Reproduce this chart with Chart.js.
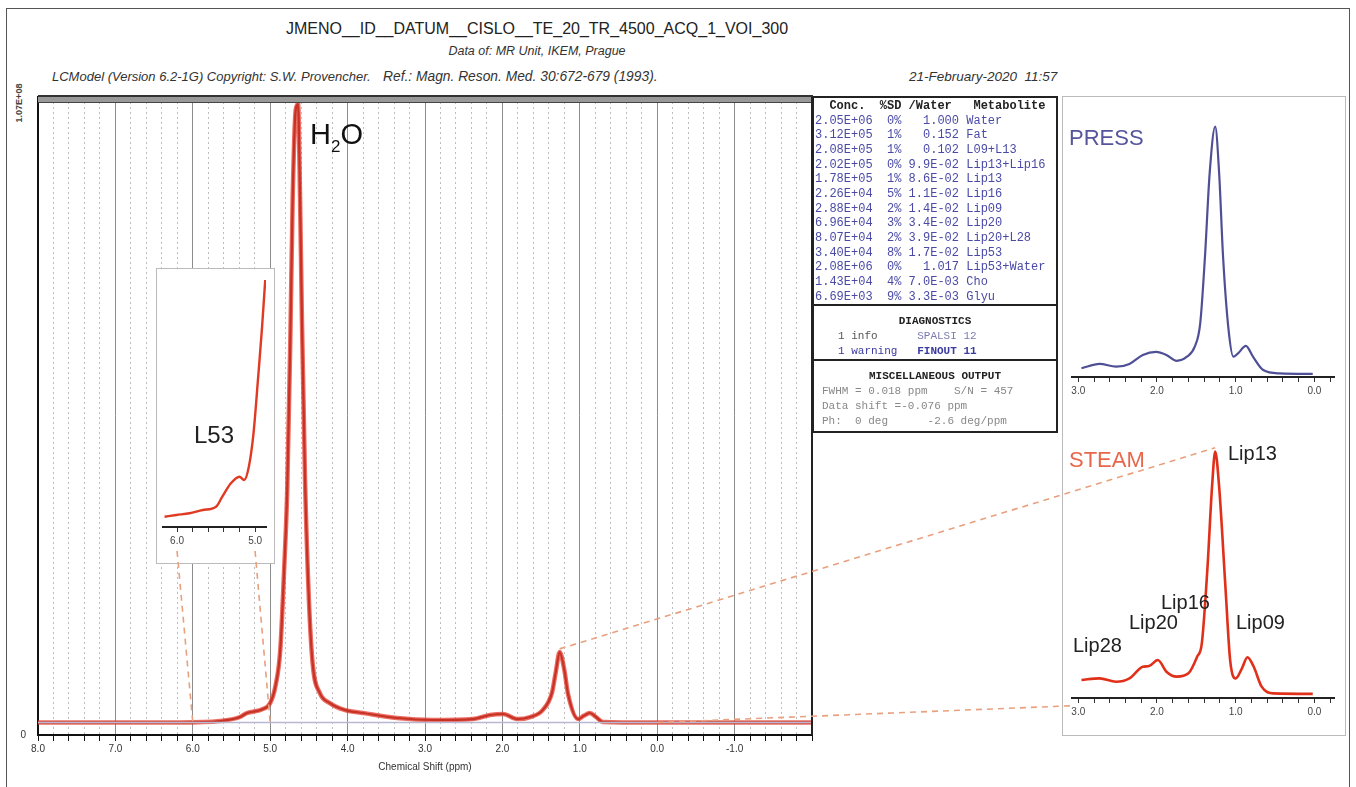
<!DOCTYPE html>
<html>
<head>
<meta charset="utf-8">
<script src="https://cdn.jsdelivr.net/npm/chart.js@4.4.1/dist/chart.umd.min.js"></script>
<style>
  body { margin: 0; background: #fff; width: 1356px; height: 787px; overflow: hidden; position: relative;
         font-family: "Liberation Sans", Arial, sans-serif; }
  .abs { position: absolute; white-space: pre; }
  canvas { position: absolute; }
  .box { position: absolute; box-sizing: border-box; border: 2px solid #222; background: #fff; }
  .mono { font-family: "Liberation Mono", "DejaVu Sans Mono", monospace; }
  .lip { position: absolute; font-size: 20px; color: #222; white-space: pre; line-height: 20px; }
  .head { font-style: italic; color: #333; font-size: 13px; top: 69px; }
</style>
</head>
<body>
<div class="abs" style="left:6px;top:8px;width:1344px;height:790px;border:1px solid #555;box-sizing:border-box;"></div>

<div class="abs" style="left:0;width:1074px;top:20px;text-align:center;font-size:16px;color:#222;">JMENO__ID__DATUM__CISLO__TE_20_TR_4500_ACQ_1_VOI_300</div>
<div class="abs" style="left:0;width:1074px;top:44px;text-align:center;font-size:12.5px;font-style:italic;color:#333;">Data of: MR Unit, IKEM, Prague</div>
<div class="abs head" style="left:52px;">LCModel (Version 6.2-1G) Copyright: S.W. Provencher.</div>
<div class="abs head" style="left:383px;font-size:13.8px;">Ref.: Magn. Reson. Med. 30:672-679 (1993).</div>
<div class="abs head" style="left:909px;font-size:13.5px;">21-February-2020  11:57</div>
<div class="abs" style="left:0px;top:98px;font-size:9px;font-weight:bold;color:#444;transform:rotate(-90deg);">1.07E+08</div>

<canvas id="mainChart" width="830" height="787" style="left:0;top:0;"></canvas>
<div class="abs" style="left:38px;top:95px;width:775px;height:8px;background:#999;border-top:2px solid #333;border-bottom:1px solid #444;box-sizing:border-box;"></div>
<div class="abs" style="left:811px;top:97px;width:2px;height:638px;background:#222;"></div>

<div class="abs" style="left:1062px;top:96px;width:284px;height:640px;border:1px solid #bbb;box-sizing:border-box;"></div>

<div class="abs" style="left:156px;top:268px;width:119px;height:296px;border:1px solid #bbb;background:#fff;box-sizing:border-box;"></div>
<canvas id="l53Chart" width="116" height="293" style="left:157px;top:269px;"></canvas>
<div class="abs" style="left:194px;top:422px;font-size:24px;color:#222;line-height:26px;">L53</div>

<canvas id="pressChart" width="283" height="310" style="left:1062px;top:97px;"></canvas>
<canvas id="steamChart" width="283" height="310" style="left:1062px;top:420px;"></canvas>

<svg id="links" width="1356" height="787" style="position:absolute;left:0;top:0;"></svg>

<div class="abs" style="left:310px;top:118px;font-size:29px;color:#111;line-height:32px;">H<span style="font-size:17px;position:relative;top:8px;">2</span>O</div>

<div class="abs" style="left:1069px;top:126px;font-size:22px;color:#55559c;line-height:24px;">PRESS</div>
<div class="abs" style="left:1069px;top:448px;font-size:22px;color:#e8664a;line-height:24px;">STEAM</div>
<div class="lip" style="left:1228px;top:443px;">Lip13</div>
<div class="lip" style="left:1161px;top:592px;">Lip16</div>
<div class="lip" style="left:1129px;top:612px;">Lip20</div>
<div class="lip" style="left:1073px;top:635px;">Lip28</div>
<div class="lip" style="left:1236px;top:612px;">Lip09</div>

<div class="box" style="left:812px;top:96px;width:246px;height:210px;"></div>
<div class="box" style="left:812px;top:304px;width:246px;height:57px;"></div>
<div class="box" style="left:812px;top:359px;width:246px;height:74px;"></div>
<div id="concTable" class="abs mono" style="left:815px;top:99px;font-size:12px;line-height:14.67px;color:#4a4aa6;"></div>
<div class="abs mono" style="left:812px;width:246px;top:315px;text-align:center;font-size:11px;font-weight:bold;color:#222;">DIAGNOSTICS</div>
<div class="abs mono" style="left:838px;top:330px;font-size:11px;color:#555;">1 info      <span style="color:#7a7ab0">SPALSI 12</span></div>
<div class="abs mono" style="left:838px;top:345px;font-size:11px;color:#3a3aa0;">1 warning   <b>FINOUT 11</b></div>
<div class="abs mono" style="left:812px;width:246px;top:370px;text-align:center;font-size:11px;font-weight:bold;color:#222;">MISCELLANEOUS OUTPUT</div>
<div class="abs mono" style="left:822px;top:385px;font-size:11px;color:#888;">FWHM = 0.018 ppm    S/N = 457</div>
<div class="abs mono" style="left:822px;top:400px;font-size:11px;color:#888;">Data shift =-0.076 ppm</div>
<div class="abs mono" style="left:822px;top:415px;font-size:11px;color:#888;">Ph:  0 deg      -2.6 deg/ppm</div>

<script>
// full spectrum (ppm, a.u. with 100 = top of plot)
var mainShift = [8.00, 7.20, 6.17, 5.65, 5.39, 5.30, 5.21, 5.11, 5.00, 4.93, 4.87, 4.82, 4.78, 4.74, 4.71, 4.67,
  4.64, 4.62, 4.59, 4.55, 4.50, 4.45, 4.36, 4.23, 4.03, 3.80, 3.36, 2.90, 2.38, 2.16, 1.99, 1.81, 1.64, 1.48,
  1.36, 1.31, 1.26, 1.20, 1.15, 1.02, 0.95, 0.87, 0.79, 0.70, 0.09, -2.00];
var mainSignal = [1.96, 1.96, 1.96, 2.19, 2.82, 3.45, 3.68, 4.0, 5.0, 7.8, 13.3, 25.9, 38.4, 61.9, 83.9, 98.0,
  98.9, 88.6, 65.0, 40.0, 21.2, 11.0, 6.6, 5.0, 3.9, 3.45, 2.66, 2.35, 2.5, 3.13, 3.29, 2.5, 2.82, 3.9,
  6.6, 9.9, 13.0, 10.2, 6.3, 2.5, 3.0, 3.45, 2.82, 2.04, 1.96, 1.96];
var baselineShift = [8.0, -2.0];
var baselineSignal = [1.96, 1.96];
var mainTickLabels = ['8.0', '7.0', '6.0', '5.0', '4.0', '3.0', '2.0', '1.0', '0.0', '-1.0'];

// lipid region zoom, PRESS and STEAM
var pressShift = [2.96, 2.73, 2.52, 2.35, 2.18, 2.01, 1.88, 1.75, 1.62, 1.52, 1.45, 1.39, 1.33, 1.26, 1.21,
  1.16, 1.09, 1.03, 0.97, 0.87, 0.78, 0.65, 0.44, 0.02];
var pressSignal = [3.4, 5.1, 4.0, 5.1, 8.6, 9.8, 8.6, 6.3, 7.9, 11.8, 21.0, 46.8, 79.4, 97.4, 79.4,
  46.8, 18.3, 7.9, 9.2, 12.1, 7.9, 2.7, 1.4, 1.2];
var steamShift = [2.96, 2.73, 2.52, 2.35, 2.18, 2.10, 1.99, 1.88, 1.75, 1.60, 1.49, 1.43, 1.36, 1.30, 1.26,
  1.21, 1.13, 1.07, 1.00, 0.92, 0.85, 0.77, 0.67, 0.52, 0.02];
var steamSignal = [7.0, 7.6, 6.3, 7.6, 12.1, 12.4, 14.7, 10.2, 8.3, 9.6, 16.0, 21.2, 49.6, 81.9, 95.5,
  81.9, 43.1, 14.7, 7.6, 11.5, 15.8, 12.1, 4.4, 1.8, 1.6];
var insetTicks = [3.0, 2.8, 2.6, 2.4, 2.2, 2.0, 1.8, 1.6, 1.4, 1.2, 1.0, 0.8, 0.6, 0.4, 0.2, 0.0, -0.2];
var insetTickLabels = ['3.0', '2.0', '1.0', '0.0'];

// L53 zoom
var l53Shift = [6.16, 6.01, 5.84, 5.67, 5.50, 5.42, 5.31, 5.20, 5.14, 5.08, 5.02, 4.96, 4.91, 4.87];
var l53Signal = [10.3, 12, 13.7, 17, 20.3, 30.3, 43.7, 50.3, 47, 60.3, 93.7, 150.3, 200.3, 247];
var l53Ticks = [6.0, 5.8, 5.6, 5.4, 5.2, 5.0];
var l53TickLabels = ['6.0', '5.0'];

// concentration table
var concValues = ['2.05E+06', '3.12E+05', '2.08E+05', '2.02E+05', '1.78E+05', '2.26E+04', '2.88E+04',
  '6.96E+04', '8.07E+04', '3.40E+04', '2.08E+06', '1.43E+04', '6.69E+03'];
var concSD = ['0%', '1%', '1%', '0%', '1%', '5%', '2%', '3%', '2%', '8%', '0%', '4%', '9%'];
var concWater = ['1.000', '0.152', '0.102', '9.9E-02', '8.6E-02', '1.1E-02', '1.4E-02', '3.4E-02',
  '3.9E-02', '1.7E-02', '1.017', '7.0E-03', '3.3E-03'];
var metabolites = ['Water', 'Fat', 'L09+L13', 'Lip13+Lip16', 'Lip13', 'Lip16', 'Lip09', 'Lip20',
  'Lip20+L28', 'Lip53', 'Lip53+Water', 'Cho', 'Glyu'];

function pad(s, n) {
  while (s.length < n) s = ' ' + s;
  return s;
}

var rows = ['<b style="color:#222">  Conc.  %SD /Water   Metabolite</b>'];
for (var i = 0; i < concValues.length; i++) {
  rows.push(concValues[i] + pad(concSD[i], 4) + ' ' + pad(concWater[i], 7) + ' ' + metabolites[i]);
}
document.getElementById('concTable').innerHTML = rows.join('\n');

function toPoints(xs, ys) {
  return xs.map(function(x, i) { return {x: x, y: ys[i]}; });
}

function isStep(v, step) {
  return Math.abs(v / step - Math.round(v / step)) < 1e-6;
}

function fmt(v) {
  return Math.abs(v) < 1e-6 ? '0.0' : v.toFixed(1);
}

var mainChart = new Chart(document.getElementById('mainChart').getContext('2d'), {
  type: 'line',
  data: {
    datasets: [
      {data: toPoints(baselineShift, baselineSignal), borderColor: '#b8b8d0', borderWidth: 1.5, pointRadius: 0},
      {data: toPoints(mainShift, mainSignal), borderColor: 'rgba(228,60,45,0.75)', borderWidth: 4.5,
       pointRadius: 0, cubicInterpolationMode: 'monotone'},
      {data: toPoints(mainShift, mainSignal), borderColor: '#6e140f', borderWidth: 2.2,
       pointRadius: 0, cubicInterpolationMode: 'monotone'},
    ]
  },
  options: {
    responsive: false,
    animation: false,
    layout: {padding: {top: 97, right: 18, left: 0, bottom: 0}},
    plugins: {legend: {display: false}, tooltip: {enabled: false}},
    scales: {
      x: {
        type: 'linear', reverse: true, min: -2, max: 8, position: 'bottom',
        afterFit: function(s) { s.height = 52; },
        ticks: {
          stepSize: 0.2, autoSkip: false, maxRotation: 0, padding: 2, color: '#333',
          font: {family: 'Liberation Sans', size: 10},
          callback: function(v) {
            if (!isStep(v, 1)) return '';
            var lbl = fmt(v);
            return mainTickLabels.indexOf(lbl) >= 0 ? lbl : '';
          }
        },
        grid: {
          color: function(c) { return c.tick && isStep(c.tick.value, 1) ? '#8c8c8c' : 'rgba(0,0,0,0)'; },
          tickColor: '#111', tickLength: 6, lineWidth: 1
        },
        border: {color: '#111', width: 2},
        title: {display: true, text: 'Chemical Shift (ppm)', color: '#333',
                font: {family: 'Liberation Sans', size: 10}, padding: {top: 4, bottom: 14}}
      },
      x2: {
        type: 'linear', reverse: true, min: -2, max: 8, position: 'top',
        afterFit: function(s) { s.height = 0; },
        ticks: {display: false, stepSize: 0.2},
        grid: {
          color: function(c) { return c.tick && !isStep(c.tick.value, 1) ? '#bdbdbd' : 'rgba(0,0,0,0)'; },
          drawTicks: false
        },
        border: {display: false, dash: [2, 3]}
      },
      y: {
        min: 0, max: 100,
        afterFit: function(s) { s.width = 38; },
        ticks: {stepSize: 100, color: '#333', font: {family: 'Liberation Sans', size: 10}, padding: 4,
                callback: function(v) { return v === 0 ? '0' : ''; }},
        grid: {display: false},
        border: {color: '#111', width: 2}
      }
    }
  }
});

function makeInset(id, xs, ys, color, width, xmin, xmax, ymax, pad, axisH, tickVals, labels) {
  return new Chart(document.getElementById(id).getContext('2d'), {
    type: 'line',
    data: {datasets: [{data: toPoints(xs, ys), borderColor: color, borderWidth: width, pointRadius: 0,
                       cubicInterpolationMode: 'monotone'}]},
    options: {
      responsive: false,
      animation: false,
      layout: {padding: pad},
      plugins: {legend: {display: false}, tooltip: {enabled: false}},
      scales: {
        x: {
          type: 'linear', reverse: true, min: xmin, max: xmax,
          afterFit: function(s) { s.height = axisH; },
          afterBuildTicks: function(s) {
            s.ticks = tickVals.map(function(v) { return {value: v}; });
          },
          ticks: {
            autoSkip: false, maxRotation: 0, padding: 3, color: '#444',
            font: {family: 'Liberation Sans', size: 10},
            callback: function(v) {
              var lbl = fmt(v);
              return labels.indexOf(lbl) >= 0 ? lbl : '';
            }
          },
          grid: {drawOnChartArea: false, tickColor: '#333', tickLength: 5},
          border: {color: '#222', width: 2}
        },
        y: {display: false, min: 0, max: ymax}
      }
    }
  });
}

var pressChart = makeInset('pressChart', pressShift, pressSignal, '#4f4f96', 2.2, -0.25, 3.08, 100,
  {top: 23, left: 10, right: 11, bottom: 0}, 30, insetTicks, insetTickLabels);
var steamChart = makeInset('steamChart', steamShift, steamSignal, '#e0301a', 2.6, -0.25, 3.08, 100,
  {top: 20, left: 10, right: 11, bottom: 0}, 32, insetTicks, insetTickLabels);
var l53Chart = makeInset('l53Chart', l53Shift, l53Signal, '#e03a22', 2.4, 4.86, 6.18, 250,
  {top: 8, left: 6, right: 7, bottom: 0}, 35, l53Ticks, l53TickLabels);

// dashed connectors between the zoom panels and the full spectrum
function px(chart, left, top, xv, yv) {
  return [left + chart.scales.x.getPixelForValue(xv), top + chart.scales.y.getPixelForValue(yv)];
}
var links = [
  [px(l53Chart, 157, 269, 6.0, 0), px(mainChart, 0, 0, 6.0, baselineSignal[0])],
  [px(l53Chart, 157, 269, 5.0, 0), px(mainChart, 0, 0, 5.0, baselineSignal[0])],
  [px(mainChart, 0, 0, 1.26, 13.5), px(steamChart, 1062, 420, 1.26, 97)],
  [px(mainChart, 0, 0, 0.0, baselineSignal[0]), px(steamChart, 1062, 420, 3.08, -3)]
];
var svg = '';
links.forEach(function(l, i) {
  var y0 = i < 2 ? l[0][1] + 24 : l[0][1];
  svg += '<line x1="' + l[0][0] + '" y1="' + y0 + '" x2="' + l[1][0] + '" y2="' + l[1][1] +
    '" stroke="#e9a07e" stroke-width="1.6" stroke-dasharray="6,5"/>';
});
document.getElementById('links').innerHTML = svg;
</script>
</body>
</html>
